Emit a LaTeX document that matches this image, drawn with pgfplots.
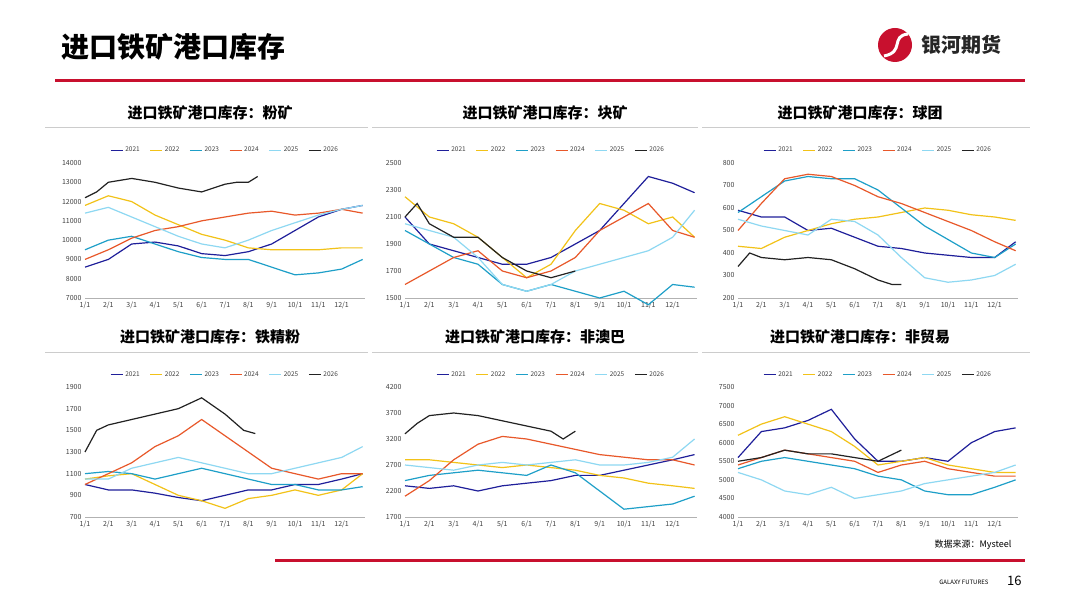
\documentclass[border=0pt]{standalone}
\usepackage{pgfplots}
\usepackage{pgfplotstable}
\pgfplotsset{compat=1.18}
\usepackage{fontspec}
\setmainfont{Noto Sans CJK SC}
\definecolor{c21}{HTML}{1F1F9A}
\definecolor{c22}{HTML}{F2C218}
\definecolor{c23}{HTML}{1E9FC8}
\definecolor{c24}{HTML}{E8582A}
\definecolor{c25}{HTML}{8ED8F2}
\definecolor{c26}{HTML}{222222}
\definecolor{gal}{HTML}{C8102E}
\pgfplotsset{panel/.style={scale only axis, width=280pt, height=135pt,
 xmin=0, xmax=12, xtick={0,...,11}, scaled y ticks=false,
 xticklabels={1/1,2/1,3/1,4/1,5/1,6/1,7/1,8/1,9/1,10/1,11/1,12/1},
 axis x line*=bottom, axis y line*=left, y axis line style={draw=none},
 x axis line style={draw=gray!60}, major tick length=0pt,
 tick label style={font=\fontsize{7}{8}\selectfont, text=black!75},
 /pgf/number format/assume math mode=true,
 /pgf/number format/1000 sep={},
 every axis plot/.append style={line width=1.2pt, no marks},
 legend columns=6, legend style={at={(0.5,1.04)}, anchor=south, draw=none, fill=none,
 font=\fontsize{6.5}{7}\selectfont, text=black!75, /tikz/every even column/.append style={column sep=8pt}},
 legend image code/.code={\draw[#1,line width=1.2pt] (0pt,0pt) -- (12pt,0pt);},
 clip=false}}
\pgfplotstableread{
x y21 y22 y23 y24 y25
0 8600 11800 9500 9000 11400
1 9000 12300 10000 9500 11700
2 9800 12000 10200 10100 11200
3 9900 11300 9800 10500 10700
4 9700 10800 9400 10700 10200
5 9300 10300 9100 11000 9800
6 9200 10000 9000 11200 9600
7 9400 9600 9000 11400 10000
8 9800 9500 8600 11500 10500
9 10500 9500 8200 11300 10900
10 11200 9500 8300 11400 11300
11 11600 9600 8500 11600 11600
11.9 11800 9600 9000 11400 11800
}\tA
\pgfplotstableread{
x y21 y22 y23 y24 y25
0 2100 2250 2000 1600 2050
1 1900 2100 1900 1700 2000
2 1850 2050 1800 1800 1950
3 1800 1950 1750 1850 1800
4 1750 1800 1600 1700 1600
5 1750 1650 1550 1650 1550
6 1800 1750 1600 1700 1600
7 1900 2000 1550 1800 1700
8 2000 2200 1500 2000 1750
9 2200 2150 1550 2100 1800
10 2400 2050 1450 2200 1850
11 2350 2100 1600 2000 1950
11.9 2280 1950 1580 1950 2150
}\tB
\pgfplotstableread{
x y21 y22 y23 y24 y25
0 590 430 580 500 550
1 560 420 650 620 520
2 560 470 720 730 500
3 500 500 740 750 480
4 510 530 730 740 550
5 470 550 730 700 540
6 430 560 680 650 480
7 420 580 600 620 380
8 400 600 520 580 290
9 390 590 460 540 270
10 380 570 400 500 280
11 380 560 380 450 300
11.9 450 545 440 410 350
}\tC
\pgfplotstableread{
x y21 y22 y23 y24 y25
0 1000 1050 1100 1000 1050
1 950 1080 1120 1100 1050
2 950 1100 1100 1200 1150
3 920 1000 1050 1350 1200
4 880 900 1100 1450 1250
5 850 850 1150 1600 1200
6 900 780 1100 1450 1150
7 950 870 1050 1300 1100
8 950 900 1000 1150 1100
9 1000 950 1000 1100 1150
10 1000 900 950 1050 1200
11 1050 950 950 1100 1250
11.9 1100 1100 980 1100 1350
}\tD
\pgfplotstableread{
x y21 y22 y23 y24 y25
0 2300 2800 2400 2100 2700
1 2250 2800 2500 2400 2650
2 2300 2750 2550 2800 2600
3 2200 2700 2600 3100 2700
4 2300 2650 2550 3250 2750
5 2350 2700 2500 3200 2700
6 2400 2650 2700 3100 2750
7 2500 2600 2550 3000 2800
8 2500 2500 2200 2900 2700
9 2600 2450 1850 2850 2700
10 2700 2350 1900 2800 2750
11 2800 2300 1950 2800 2850
11.9 2900 2250 2100 2700 3200
}\tE
\pgfplotstableread{
x y21 y22 y23 y24 y25
0 5600 6200 5300 5400 5200
1 6300 6500 5500 5600 5000
2 6400 6700 5600 5800 4700
3 6600 6500 5500 5700 4600
4 6900 6300 5400 5600 4800
5 6100 5900 5300 5500 4500
6 5500 5400 5100 5200 4600
7 5500 5500 5000 5400 4700
8 5600 5600 4700 5500 4900
9 5500 5400 4600 5300 5000
10 6000 5300 4600 5200 5100
11 6300 5200 4800 5100 5200
11.9 6400 5200 5000 5100 5400
}\tF
\newcommand\series[1]{%
 \addplot[c21] table[x=x,y=y21]{#1}; \addlegendentry{2021}
 \addplot[c22] table[x=x,y=y22]{#1}; \addlegendentry{2022}
 \addplot[c23] table[x=x,y=y23]{#1}; \addlegendentry{2023}
 \addplot[c24] table[x=x,y=y24]{#1}; \addlegendentry{2024}
 \addplot[c25] table[x=x,y=y25]{#1}; \addlegendentry{2025}}
\newcommand\ptitle[3]{\node[font=\fontsize{15}{17}\selectfont\bfseries] at (#1pt,#2pt) {#3};}
\begin{document}
\begin{tikzpicture}
\path[fill=white] (0,0) rectangle (1080pt,608pt);
\node[anchor=west,font=\fontsize{28}{30}\selectfont\bfseries] at (58pt,561pt) {进口铁矿港口库存};
\fill[gal] (55pt,526pt) rectangle (1025pt,529pt);
\fill[gal] (895pt,563pt) circle (17pt);
\draw[white,line width=3pt] (884pt,552pt) .. controls (905pt,556pt) and (890pt,572pt) .. (908pt,574pt);
\node[anchor=west,font=\fontsize{20}{22}\selectfont\bfseries,text=black!85] at (918pt,563pt) {银河期货};
\foreach \a/\b in {45/368,372/698,702/1030}{\draw[gray!40] (\a pt,481pt) -- (\b pt,481pt); \draw[gray!40] (\a pt,256pt) -- (\b pt,256pt);}
\ptitle{210}{495}{进口铁矿港口库存：粉矿}
\ptitle{545}{495}{进口铁矿港口库存：块矿}
\ptitle{860}{495}{进口铁矿港口库存：球团}
\ptitle{210}{271}{进口铁矿港口库存：铁精粉}
\ptitle{535}{271}{进口铁矿港口库存：非澳巴}
\ptitle{860}{271}{进口铁矿港口库存：非贸易}
\begin{axis}[panel, at={(85pt,310pt)}, ymin=7000, ymax=14000, ytick={7000,8000,...,14000}]
\series{\tA}
\addplot[c26] coordinates {(0,12200)(0.5,12500)(1,13000)(2,13200)(3,13000)(4,12700)(5,12500)(6,12900)(6.5,13000)(7,13000)(7.4,13300)}; \addlegendentry{2026}
\end{axis}
\begin{axis}[panel, width=292pt, at={(405pt,310pt)}, ymin=1500, ymax=2500, ytick={1500,1700,...,2500}]
\series{\tB}
\addplot[c26] coordinates {(0,2100)(0.5,2200)(1,2050)(2,1950)(3,1950)(4,1800)(5,1700)(6,1650)(7,1700)}; \addlegendentry{2026}
\end{axis}
\begin{axis}[panel, at={(738pt,310pt)}, ymin=200, ymax=800, ytick={200,300,...,800}]
\series{\tC}
\addplot[c26] coordinates {(0,340)(0.5,400)(1,380)(2,370)(3,380)(4,370)(5,330)(6,280)(6.6,260)(7,260)}; \addlegendentry{2026}
\end{axis}
\begin{axis}[panel, height=130pt, at={(85pt,91pt)}, ymin=700, ymax=1900, ytick={700,900,...,1900}]
\series{\tD}
\addplot[c26] coordinates {(0,1300)(0.5,1500)(1,1550)(2,1600)(3,1650)(4,1700)(5,1800)(6,1650)(6.8,1500)(7.3,1470)}; \addlegendentry{2026}
\end{axis}
\begin{axis}[panel, width=292pt, height=130pt, at={(405pt,91pt)}, ymin=1700, ymax=4200, ytick={1700,2200,...,4200}]
\series{\tE}
\addplot[c26] coordinates {(0,3300)(0.5,3500)(1,3650)(2,3700)(3,3650)(4,3550)(5,3450)(6,3350)(6.5,3200)(7,3350)}; \addlegendentry{2026}
\end{axis}
\begin{axis}[panel, height=130pt, at={(738pt,91pt)}, ymin=4000, ymax=7500, ytick={4000,4500,...,7500}]
\series{\tF}
\addplot[c26] coordinates {(0,5500)(1,5600)(2,5800)(3,5700)(4,5700)(5,5600)(6,5500)(7,5800)}; \addlegendentry{2026}
\end{axis}
\node[anchor=east,font=\fontsize{9}{10}\selectfont] at (1015pt,63pt) {数据来源：Mysteel};
\fill[gal] (275pt,46pt) rectangle (1025pt,49pt);
\node[anchor=east,font=\fontsize{6}{7}\selectfont] at (992pt,26pt) {GALAXY FUTURES};
\node[anchor=east,font=\fontsize{13}{14}\selectfont] at (1025pt,27pt) {16};
\end{tikzpicture}
\end{document}
